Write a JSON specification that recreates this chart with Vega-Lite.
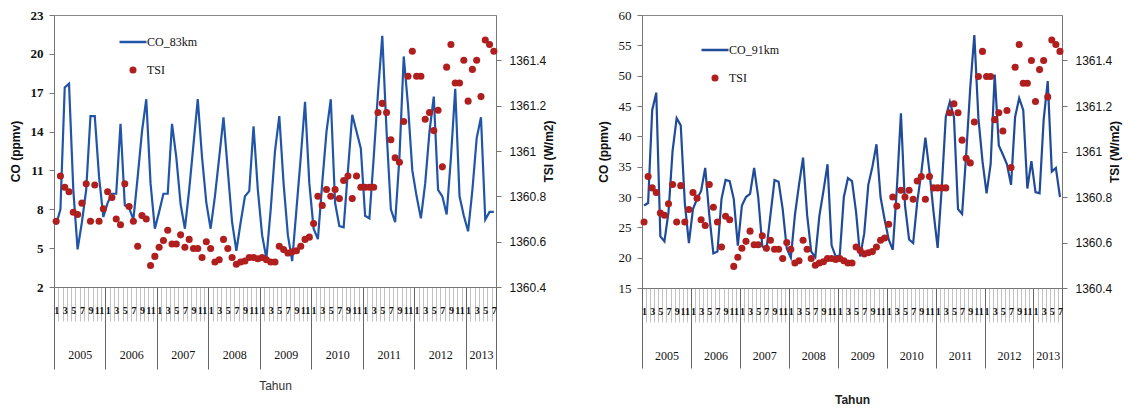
{
"$schema": "https://vega.github.io/schema/vega-lite/v6.json",
"background": "white",
"padding": {"left": 8, "top": 8, "right": 5, "bottom": 0},
"config": {"font": "Liberation Sans", "view": {"stroke": "#888", "strokeWidth": 1}, "axis": {"labelColor": "#111", "titleColor": "#111", "domainColor": "#777", "tickColor": "#777", "grid": false}},
"datasets": {
"d83": [
{"t":0,"co":6.8,"tsi":1360.69},{"t":1,"co":8.0,"tsi":1360.89},{"t":2,"co":17.4,"tsi":1360.84},{"t":3,"co":17.7,"tsi":1360.82},{"t":4,"co":9.5,"tsi":1360.73},{"t":5,"co":4.9,"tsi":1360.72},{"t":6,"co":7.0,"tsi":1360.77},{"t":7,"co":9.5,"tsi":1360.855},{"t":8,"co":15.2,"tsi":1360.69},{"t":9,"co":15.2,"tsi":1360.85},{"t":10,"co":10.5,"tsi":1360.69},{"t":11,"co":7.4,"tsi":1360.745},
{"t":12,"co":8.5,"tsi":1360.82},{"t":13,"co":9.2,"tsi":1360.795},{"t":14,"co":9.2,"tsi":1360.70},{"t":15,"co":14.6,"tsi":1360.675},{"t":16,"co":8.3,"tsi":1360.855},{"t":17,"co":8.1,"tsi":1360.755},{"t":18,"co":7.2,"tsi":1360.69},{"t":19,"co":10.5,"tsi":1360.58},{"t":20,"co":14.0,"tsi":1360.715},{"t":21,"co":16.5,"tsi":1360.70},{"t":22,"co":10.0,"tsi":1360.495},{"t":23,"co":6.5,"tsi":1360.535},
{"t":24,"co":7.8,"tsi":1360.575},{"t":25,"co":9.2,"tsi":1360.605},{"t":26,"co":9.2,"tsi":1360.65},{"t":27,"co":14.6,"tsi":1360.59},{"t":28,"co":12.0,"tsi":1360.59},{"t":29,"co":8.4,"tsi":1360.63},{"t":30,"co":6.5,"tsi":1360.575},{"t":31,"co":9.5,"tsi":1360.61},{"t":32,"co":13.0,"tsi":1360.57},{"t":33,"co":16.5,"tsi":1360.57},{"t":34,"co":12.0,"tsi":1360.53},{"t":35,"co":8.5,"tsi":1360.60},
{"t":36,"co":6.5,"tsi":1360.57},{"t":37,"co":9.0,"tsi":1360.51},{"t":38,"co":12.0,"tsi":1360.52},{"t":39,"co":15.1,"tsi":1360.61},{"t":40,"co":11.0,"tsi":1360.57},{"t":41,"co":7.0,"tsi":1360.53},{"t":42,"co":4.8,"tsi":1360.50},{"t":43,"co":7.0,"tsi":1360.51},{"t":44,"co":9.0,"tsi":1360.515},{"t":45,"co":9.4,"tsi":1360.53},{"t":46,"co":14.4,"tsi":1360.53},{"t":47,"co":9.5,"tsi":1360.525},
{"t":48,"co":6.0,"tsi":1360.53},{"t":49,"co":4.2,"tsi":1360.52},{"t":50,"co":8.0,"tsi":1360.51},{"t":51,"co":12.5,"tsi":1360.51},{"t":52,"co":15.2,"tsi":1360.58},{"t":53,"co":10.0,"tsi":1360.565},{"t":54,"co":6.0,"tsi":1360.55},{"t":55,"co":4.0,"tsi":1360.555},{"t":56,"co":8.0,"tsi":1360.56},{"t":57,"co":12.0,"tsi":1360.58},{"t":58,"co":16.3,"tsi":1360.61},{"t":59,"co":10.0,"tsi":1360.62},
{"t":60,"co":6.5,"tsi":1360.68},{"t":61,"co":5.7,"tsi":1360.80},{"t":62,"co":10.0,"tsi":1360.76},{"t":63,"co":14.0,"tsi":1360.83},{"t":64,"co":16.5,"tsi":1360.80},{"t":65,"co":8.5,"tsi":1360.83},{"t":66,"co":6.7,"tsi":1360.79},{"t":67,"co":6.6,"tsi":1360.87},{"t":68,"co":11.0,"tsi":1360.89},{"t":69,"co":15.3,"tsi":1360.79},{"t":70,"co":14.0,"tsi":1360.89},{"t":71,"co":12.7,"tsi":1360.84},
{"t":72,"co":7.5,"tsi":1360.84},{"t":73,"co":7.3,"tsi":1360.84},{"t":74,"co":12.0,"tsi":1360.84},{"t":75,"co":17.0,"tsi":1361.17},{"t":76,"co":21.4,"tsi":1361.21},{"t":77,"co":14.0,"tsi":1361.17},{"t":78,"co":8.0,"tsi":1361.05},{"t":79,"co":7.0,"tsi":1360.97},{"t":80,"co":12.0,"tsi":1360.95},{"t":81,"co":19.8,"tsi":1361.13},{"t":82,"co":16.0,"tsi":1361.33},{"t":83,"co":11.0,"tsi":1361.44},
{"t":84,"co":9.0,"tsi":1361.33},{"t":85,"co":7.3,"tsi":1361.33},{"t":86,"co":10.0,"tsi":1361.14},{"t":87,"co":14.0,"tsi":1361.17},{"t":88,"co":16.7,"tsi":1361.09},{"t":89,"co":9.5,"tsi":1361.18},{"t":90,"co":9.0,"tsi":1360.93},{"t":91,"co":7.6,"tsi":1361.37},{"t":92,"co":12.0,"tsi":1361.47},{"t":93,"co":17.3,"tsi":1361.30},{"t":94,"co":9.0,"tsi":1361.30},{"t":95,"co":7.5,"tsi":1361.40},
{"t":96,"co":6.3,"tsi":1361.22},{"t":97,"co":9.5,"tsi":1361.36},{"t":98,"co":13.5,"tsi":1361.40},{"t":99,"co":15.1,"tsi":1361.24},{"t":100,"co":7.2,"tsi":1361.49},{"t":101,"co":7.8,"tsi":1361.47},{"t":102,"co":7.8,"tsi":1361.44}
],
"d91": [
{"t":0,"co":28.6,"tsi":1360.69},{"t":1,"co":29.0,"tsi":1360.89},{"t":2,"co":44.3,"tsi":1360.84},{"t":3,"co":47.2,"tsi":1360.82},{"t":4,"co":23.5,"tsi":1360.73},{"t":5,"co":22.7,"tsi":1360.72},{"t":6,"co":27.5,"tsi":1360.77},{"t":7,"co":37.6,"tsi":1360.855},{"t":8,"co":43.0,"tsi":1360.69},{"t":9,"co":41.8,"tsi":1360.85},{"t":10,"co":29.0,"tsi":1360.69},{"t":11,"co":22.4,"tsi":1360.745},
{"t":12,"co":28.0,"tsi":1360.82},{"t":13,"co":29.7,"tsi":1360.795},{"t":14,"co":31.0,"tsi":1360.70},{"t":15,"co":34.8,"tsi":1360.675},{"t":16,"co":27.0,"tsi":1360.855},{"t":17,"co":20.7,"tsi":1360.755},{"t":18,"co":21.0,"tsi":1360.69},{"t":19,"co":29.7,"tsi":1360.58},{"t":20,"co":32.8,"tsi":1360.715},{"t":21,"co":32.6,"tsi":1360.70},{"t":22,"co":29.7,"tsi":1360.495},{"t":23,"co":22.0,"tsi":1360.535},
{"t":24,"co":28.6,"tsi":1360.575},{"t":25,"co":30.0,"tsi":1360.605},{"t":26,"co":30.5,"tsi":1360.65},{"t":27,"co":34.8,"tsi":1360.59},{"t":28,"co":30.0,"tsi":1360.59},{"t":29,"co":21.9,"tsi":1360.63},{"t":30,"co":21.3,"tsi":1360.575},{"t":31,"co":27.0,"tsi":1360.61},{"t":32,"co":32.8,"tsi":1360.57},{"t":33,"co":32.5,"tsi":1360.57},{"t":34,"co":28.0,"tsi":1360.53},{"t":35,"co":21.5,"tsi":1360.60},
{"t":36,"co":20.0,"tsi":1360.57},{"t":37,"co":27.0,"tsi":1360.51},{"t":38,"co":32.0,"tsi":1360.52},{"t":39,"co":36.5,"tsi":1360.61},{"t":40,"co":27.0,"tsi":1360.57},{"t":41,"co":21.0,"tsi":1360.53},{"t":42,"co":20.1,"tsi":1360.50},{"t":43,"co":26.9,"tsi":1360.51},{"t":44,"co":31.0,"tsi":1360.515},{"t":45,"co":35.4,"tsi":1360.53},{"t":46,"co":22.0,"tsi":1360.53},{"t":47,"co":20.2,"tsi":1360.525},
{"t":48,"co":20.4,"tsi":1360.53},{"t":49,"co":30.0,"tsi":1360.52},{"t":50,"co":33.1,"tsi":1360.51},{"t":51,"co":32.6,"tsi":1360.51},{"t":52,"co":27.5,"tsi":1360.58},{"t":53,"co":20.2,"tsi":1360.565},{"t":54,"co":24.0,"tsi":1360.55},{"t":55,"co":32.0,"tsi":1360.555},{"t":56,"co":35.0,"tsi":1360.56},{"t":57,"co":38.7,"tsi":1360.58},{"t":58,"co":30.0,"tsi":1360.61},{"t":59,"co":26.3,"tsi":1360.62},
{"t":60,"co":23.0,"tsi":1360.68},{"t":61,"co":21.3,"tsi":1360.80},{"t":62,"co":31.4,"tsi":1360.76},{"t":63,"co":43.8,"tsi":1360.83},{"t":64,"co":28.6,"tsi":1360.80},{"t":65,"co":23.0,"tsi":1360.83},{"t":66,"co":22.4,"tsi":1360.79},{"t":67,"co":29.2,"tsi":1360.87},{"t":68,"co":34.0,"tsi":1360.89},{"t":69,"co":39.8,"tsi":1360.79},{"t":70,"co":34.2,"tsi":1360.89},{"t":71,"co":27.5,"tsi":1360.84},
{"t":72,"co":21.6,"tsi":1360.84},{"t":73,"co":31.4,"tsi":1360.84},{"t":74,"co":43.2,"tsi":1360.84},{"t":75,"co":45.7,"tsi":1361.17},{"t":76,"co":43.2,"tsi":1361.21},{"t":77,"co":28.0,"tsi":1361.17},{"t":78,"co":27.2,"tsi":1361.05},{"t":79,"co":37.0,"tsi":1360.97},{"t":80,"co":48.0,"tsi":1360.95},{"t":81,"co":56.7,"tsi":1361.13},{"t":82,"co":43.0,"tsi":1361.33},{"t":83,"co":35.9,"tsi":1361.44},
{"t":84,"co":30.6,"tsi":1361.33},{"t":85,"co":35.4,"tsi":1361.33},{"t":86,"co":50.2,"tsi":1361.14},{"t":87,"co":38.5,"tsi":1361.17},{"t":88,"co":37.0,"tsi":1361.09},{"t":89,"co":35.4,"tsi":1361.18},{"t":90,"co":32.0,"tsi":1360.93},{"t":91,"co":43.2,"tsi":1361.37},{"t":92,"co":46.3,"tsi":1361.47},{"t":93,"co":44.3,"tsi":1361.30},{"t":94,"co":31.4,"tsi":1361.30},{"t":95,"co":35.9,"tsi":1361.40},
{"t":96,"co":30.8,"tsi":1361.22},{"t":97,"co":30.6,"tsi":1361.36},{"t":98,"co":42.7,"tsi":1361.40},{"t":99,"co":49.1,"tsi":1361.24},{"t":100,"co":34.2,"tsi":1361.49},{"t":101,"co":34.8,"tsi":1361.47},{"t":102,"co":30.0,"tsi":1361.44}
]
},
"spacing": 40,
"resolve": {"scale": {"color": "independent"}, "legend": {"color": "independent"}},
"hconcat": [
{
"width": 442, "height": 272,
"data": {"name": "d83"},
"resolve": {"scale": {"y": "independent"}},
"layer": [
{"mark": {"type": "line", "strokeWidth": 2.2},
 "encoding": {
  "x": {"field": "t", "type": "quantitative", "scale": {"domain": [-0.5, 102.5], "nice": false, "zero": false},
   "axis": {"values": [-0.5,0,0.5,1.5,2,2.5,3.5,4,4.5,5.5,6,6.5,7.5,8,8.5,9.5,10,10.5,11.5,12,12.5,13.5,14,14.5,15.5,16,16.5,17.5,18,18.5,19.5,20,20.5,21.5,22,22.5,23.5,24,24.5,25.5,26,26.5,27.5,28,28.5,29.5,30,30.5,31.5,32,32.5,33.5,34,34.5,35.5,36,36.5,37.5,38,38.5,39.5,40,40.5,41.5,42,42.5,43.5,44,44.5,45.5,46,46.5,47.5,48,48.5,49.5,50,50.5,51.5,52,52.5,53.5,54,54.5,55.5,56,56.5,57.5,58,58.5,59.5,60,60.5,61.5,62,62.5,63.5,64,64.5,65.5,66,66.5,67.5,68,68.5,69.5,70,70.5,71.5,72,72.5,73.5,74,74.5,75.5,76,76.5,77.5,78,78.5,79.5,80,80.5,81.5,82,82.5,83.5,84,84.5,85.5,86,86.5,87.5,88,88.5,89.5,90,90.5,91.5,92,92.5,93.5,94,94.5,95.5,96,96.5,97.5,98,98.5,99,99.5,100,100.5,101.5,102,102.5],
    "tickCount": 1000,
    "labelExpr": "(datum.value == 99 || (datum.value % 12 == 5.5 && datum.value < 100)) ? toString(2005 + floor(datum.value / 12)) : (datum.value % 1 == 0 ? toString(datum.value % 12 + 1) : '')",
    "tickSize": {"condition": {"test": "(datum.value + 0.5) % 12 == 0 || datum.value == 102.5", "value": 82}, "value": 34},
    "tickOpacity": {"condition": {"test": "datum.value % 1 == 0", "value": 0}, "value": 1},
    "tickColor": {"condition": {"test": "(datum.value + 0.5) % 12 == 0 || datum.value == 102.5", "value": "#666666"}, "value": "#a8a8a8"},
    "tickWidth": {"condition": {"test": "(datum.value + 0.5) % 12 == 0 || datum.value == 102.5", "value": 1}, "value": 0.7},
    "labelPadding": {"condition": {"test": "datum.value == 99 || (datum.value % 12 == 5.5 && datum.value < 100)", "value": 28}, "value": -16},
    "labelFontSize": {"condition": {"test": "datum.value == 99 || (datum.value % 12 == 5.5 && datum.value < 100)", "value": 12}, "value": 10},
    "labelFontWeight": {"condition": {"test": "datum.value == 99 || (datum.value % 12 == 5.5 && datum.value < 100)", "value": "normal"}, "value": "bold"},
    "labelFont": "Liberation Sans Narrow", "labelOverlap": false, "labelFlush": false, "labelBound": false,
    "title": "Tahun", "titleFontSize": 12, "titleFontWeight": "normal", "titleColor": "#333", "titlePadding": 11}},
  "y": {"field": "co", "type": "quantitative", "scale": {"domain": [2, 23], "nice": false, "zero": false},
   "axis": {"values": [2,5,8,11,14,17,20,23], "title": "CO (ppmv)", "titleFontSize": 12, "titleFontWeight": "bold", "labelFontSize": 13, "labelFontWeight": "bold", "labelFont": "Liberation Sans Narrow", "tickSize": 5, "labelPadding": 6, "titlePadding": 8}},
  "color": {"datum": "CO_83km", "type": "nominal", "scale": {"domain": ["CO_83km", "TSI"], "range": ["#2155a8", "#b01e1e"]},
   "legend": {"orient": "none", "legendX": 73, "legendY": 21, "title": null, "padding": 0, "rowPadding": 16, "labelFontSize": 12, "labelFont": "Liberation Sans Narrow", "labelColor": "#111", "symbolType": "stroke", "symbolSize": 729, "symbolStrokeWidth": 2.5, "labelOffset": 8,
    "encode": {"symbols": {"update": {"shape": {"signal": "datum.value === 'TSI' ? 'circle' : 'stroke'"}, "size": {"signal": "datum.value === 'TSI' ? 50 : 729"}, "fill": {"signal": "datum.value === 'TSI' ? '#b01e1e' : 'transparent'"}, "stroke": {"signal": "datum.value === 'TSI' ? '#b01e1e' : '#2155a8'"}, "strokeWidth": {"signal": "datum.value === 'TSI' ? 0 : 2.5"}}}}}}
 }},
{"mark": {"type": "point", "filled": true, "size": 50, "opacity": 1},
 "encoding": {
  "x": {"field": "t", "type": "quantitative", "scale": {"domain": [-0.5, 102.5], "nice": false, "zero": false},
   "axis": {"values": [-0.5,0,0.5,1.5,2,2.5,3.5,4,4.5,5.5,6,6.5,7.5,8,8.5,9.5,10,10.5,11.5,12,12.5,13.5,14,14.5,15.5,16,16.5,17.5,18,18.5,19.5,20,20.5,21.5,22,22.5,23.5,24,24.5,25.5,26,26.5,27.5,28,28.5,29.5,30,30.5,31.5,32,32.5,33.5,34,34.5,35.5,36,36.5,37.5,38,38.5,39.5,40,40.5,41.5,42,42.5,43.5,44,44.5,45.5,46,46.5,47.5,48,48.5,49.5,50,50.5,51.5,52,52.5,53.5,54,54.5,55.5,56,56.5,57.5,58,58.5,59.5,60,60.5,61.5,62,62.5,63.5,64,64.5,65.5,66,66.5,67.5,68,68.5,69.5,70,70.5,71.5,72,72.5,73.5,74,74.5,75.5,76,76.5,77.5,78,78.5,79.5,80,80.5,81.5,82,82.5,83.5,84,84.5,85.5,86,86.5,87.5,88,88.5,89.5,90,90.5,91.5,92,92.5,93.5,94,94.5,95.5,96,96.5,97.5,98,98.5,99,99.5,100,100.5,101.5,102,102.5],
    "tickCount": 1000,
    "labelExpr": "(datum.value == 99 || (datum.value % 12 == 5.5 && datum.value < 100)) ? toString(2005 + floor(datum.value / 12)) : (datum.value % 1 == 0 ? toString(datum.value % 12 + 1) : '')",
    "tickSize": {"condition": {"test": "(datum.value + 0.5) % 12 == 0 || datum.value == 102.5", "value": 82}, "value": 34},
    "tickOpacity": {"condition": {"test": "datum.value % 1 == 0", "value": 0}, "value": 1},
    "tickColor": {"condition": {"test": "(datum.value + 0.5) % 12 == 0 || datum.value == 102.5", "value": "#666666"}, "value": "#a8a8a8"},
    "tickWidth": {"condition": {"test": "(datum.value + 0.5) % 12 == 0 || datum.value == 102.5", "value": 1}, "value": 0.7},
    "labelPadding": {"condition": {"test": "datum.value == 99 || (datum.value % 12 == 5.5 && datum.value < 100)", "value": 28}, "value": -16},
    "labelFontSize": {"condition": {"test": "datum.value == 99 || (datum.value % 12 == 5.5 && datum.value < 100)", "value": 12}, "value": 10},
    "labelFontWeight": {"condition": {"test": "datum.value == 99 || (datum.value % 12 == 5.5 && datum.value < 100)", "value": "normal"}, "value": "bold"},
    "labelFont": "Liberation Sans Narrow", "labelOverlap": false, "labelFlush": false, "labelBound": false,
    "title": "Tahun", "titleFontSize": 12, "titleFontWeight": "normal", "titleColor": "#333", "titlePadding": 11}},
  "y": {"field": "tsi", "type": "quantitative", "scale": {"domain": [1360.4, 1361.6], "nice": false, "zero": false},
   "axis": {"orient": "right", "values": [1360.4,1360.6,1360.8,1361.0,1361.2,1361.4], "format": ".1~f", "title": "TSI (W/m2)", "titleAngle": 270, "titleFontSize": 12, "titleFontWeight": "bold", "labelFontSize": 12, "tickSize": 5, "labelPadding": 8, "titlePadding": 10}},
  "color": {"datum": "TSI", "type": "nominal"}
 }}
]
},
{
"width": 420, "height": 273,
"data": {"name": "d91"},
"resolve": {"scale": {"y": "independent"}},
"layer": [
{"mark": {"type": "line", "strokeWidth": 2.2},
 "encoding": {
  "x": {"field": "t", "type": "quantitative", "scale": {"domain": [-0.5, 102.5], "nice": false, "zero": false},
   "axis": {"values": [-0.5,0,0.5,1.5,2,2.5,3.5,4,4.5,5.5,6,6.5,7.5,8,8.5,9.5,10,10.5,11.5,12,12.5,13.5,14,14.5,15.5,16,16.5,17.5,18,18.5,19.5,20,20.5,21.5,22,22.5,23.5,24,24.5,25.5,26,26.5,27.5,28,28.5,29.5,30,30.5,31.5,32,32.5,33.5,34,34.5,35.5,36,36.5,37.5,38,38.5,39.5,40,40.5,41.5,42,42.5,43.5,44,44.5,45.5,46,46.5,47.5,48,48.5,49.5,50,50.5,51.5,52,52.5,53.5,54,54.5,55.5,56,56.5,57.5,58,58.5,59.5,60,60.5,61.5,62,62.5,63.5,64,64.5,65.5,66,66.5,67.5,68,68.5,69.5,70,70.5,71.5,72,72.5,73.5,74,74.5,75.5,76,76.5,77.5,78,78.5,79.5,80,80.5,81.5,82,82.5,83.5,84,84.5,85.5,86,86.5,87.5,88,88.5,89.5,90,90.5,91.5,92,92.5,93.5,94,94.5,95.5,96,96.5,97.5,98,98.5,99,99.5,100,100.5,101.5,102,102.5],
    "tickCount": 1000,
    "labelExpr": "(datum.value == 99 || (datum.value % 12 == 5.5 && datum.value < 100)) ? toString(2005 + floor(datum.value / 12)) : (datum.value % 1 == 0 ? toString(datum.value % 12 + 1) : '')",
    "tickSize": {"condition": {"test": "(datum.value + 0.5) % 12 == 0 || datum.value == 102.5", "value": 80}, "value": 34},
    "tickOpacity": {"condition": {"test": "datum.value % 1 == 0", "value": 0}, "value": 1},
    "tickColor": {"condition": {"test": "(datum.value + 0.5) % 12 == 0 || datum.value == 102.5", "value": "#666666"}, "value": "#a8a8a8"},
    "tickWidth": {"condition": {"test": "(datum.value + 0.5) % 12 == 0 || datum.value == 102.5", "value": 1}, "value": 0.7},
    "labelPadding": {"condition": {"test": "datum.value == 99 || (datum.value % 12 == 5.5 && datum.value < 100)", "value": 28}, "value": -16},
    "labelFontSize": {"condition": {"test": "datum.value == 99 || (datum.value % 12 == 5.5 && datum.value < 100)", "value": 12}, "value": 10},
    "labelFontWeight": {"condition": {"test": "datum.value == 99 || (datum.value % 12 == 5.5 && datum.value < 100)", "value": "normal"}, "value": "bold"},
    "labelFont": "Liberation Sans Narrow", "labelOverlap": false, "labelFlush": false, "labelBound": false,
    "title": "Tahun", "titleFontSize": 12, "titleFontWeight": "bold", "titleColor": "#222", "titlePadding": 26}},
  "y": {"field": "co", "type": "quantitative", "scale": {"domain": [15, 60], "nice": false, "zero": false},
   "axis": {"values": [15,20,25,30,35,40,45,50,55,60], "title": "CO (ppmv)", "titleFontSize": 12, "titleFontWeight": "bold", "labelFontSize": 13, "labelFont": "Liberation Sans Narrow", "tickSize": 5, "labelPadding": 6, "titlePadding": 8}},
  "color": {"datum": "CO_91km", "type": "nominal", "scale": {"domain": ["CO_91km", "TSI"], "range": ["#1f4b99", "#b01e1e"]},
   "legend": {"orient": "none", "legendX": 67, "legendY": 29, "title": null, "padding": 0, "rowPadding": 16, "labelFontSize": 12, "labelFont": "Liberation Sans Narrow", "labelColor": "#111", "symbolType": "stroke", "symbolSize": 729, "symbolStrokeWidth": 2.5, "labelOffset": 8,
    "encode": {"symbols": {"update": {"shape": {"signal": "datum.value === 'TSI' ? 'circle' : 'stroke'"}, "size": {"signal": "datum.value === 'TSI' ? 50 : 729"}, "fill": {"signal": "datum.value === 'TSI' ? '#b01e1e' : 'transparent'"}, "stroke": {"signal": "datum.value === 'TSI' ? '#b01e1e' : '#1f4b99'"}, "strokeWidth": {"signal": "datum.value === 'TSI' ? 0 : 2.5"}}}}}}
 }},
{"mark": {"type": "point", "filled": true, "size": 50, "opacity": 1},
 "encoding": {
  "x": {"field": "t", "type": "quantitative", "scale": {"domain": [-0.5, 102.5], "nice": false, "zero": false},
   "axis": {"values": [-0.5,0,0.5,1.5,2,2.5,3.5,4,4.5,5.5,6,6.5,7.5,8,8.5,9.5,10,10.5,11.5,12,12.5,13.5,14,14.5,15.5,16,16.5,17.5,18,18.5,19.5,20,20.5,21.5,22,22.5,23.5,24,24.5,25.5,26,26.5,27.5,28,28.5,29.5,30,30.5,31.5,32,32.5,33.5,34,34.5,35.5,36,36.5,37.5,38,38.5,39.5,40,40.5,41.5,42,42.5,43.5,44,44.5,45.5,46,46.5,47.5,48,48.5,49.5,50,50.5,51.5,52,52.5,53.5,54,54.5,55.5,56,56.5,57.5,58,58.5,59.5,60,60.5,61.5,62,62.5,63.5,64,64.5,65.5,66,66.5,67.5,68,68.5,69.5,70,70.5,71.5,72,72.5,73.5,74,74.5,75.5,76,76.5,77.5,78,78.5,79.5,80,80.5,81.5,82,82.5,83.5,84,84.5,85.5,86,86.5,87.5,88,88.5,89.5,90,90.5,91.5,92,92.5,93.5,94,94.5,95.5,96,96.5,97.5,98,98.5,99,99.5,100,100.5,101.5,102,102.5],
    "tickCount": 1000,
    "labelExpr": "(datum.value == 99 || (datum.value % 12 == 5.5 && datum.value < 100)) ? toString(2005 + floor(datum.value / 12)) : (datum.value % 1 == 0 ? toString(datum.value % 12 + 1) : '')",
    "tickSize": {"condition": {"test": "(datum.value + 0.5) % 12 == 0 || datum.value == 102.5", "value": 80}, "value": 34},
    "tickOpacity": {"condition": {"test": "datum.value % 1 == 0", "value": 0}, "value": 1},
    "tickColor": {"condition": {"test": "(datum.value + 0.5) % 12 == 0 || datum.value == 102.5", "value": "#666666"}, "value": "#a8a8a8"},
    "tickWidth": {"condition": {"test": "(datum.value + 0.5) % 12 == 0 || datum.value == 102.5", "value": 1}, "value": 0.7},
    "labelPadding": {"condition": {"test": "datum.value == 99 || (datum.value % 12 == 5.5 && datum.value < 100)", "value": 28}, "value": -16},
    "labelFontSize": {"condition": {"test": "datum.value == 99 || (datum.value % 12 == 5.5 && datum.value < 100)", "value": 12}, "value": 10},
    "labelFontWeight": {"condition": {"test": "datum.value == 99 || (datum.value % 12 == 5.5 && datum.value < 100)", "value": "normal"}, "value": "bold"},
    "labelFont": "Liberation Sans Narrow", "labelOverlap": false, "labelFlush": false, "labelBound": false,
    "title": "Tahun", "titleFontSize": 12, "titleFontWeight": "bold", "titleColor": "#222", "titlePadding": 26}},
  "y": {"field": "tsi", "type": "quantitative", "scale": {"domain": [1360.4, 1361.6], "nice": false, "zero": false},
   "axis": {"orient": "right", "values": [1360.4,1360.6,1360.8,1361.0,1361.2,1361.4], "format": ".1~f", "title": "TSI (W/m2)", "titleAngle": 270, "titleFontSize": 12, "titleFontWeight": "bold", "labelFontSize": 12, "tickSize": 5, "labelPadding": 8, "titlePadding": 10}},
  "color": {"datum": "TSI", "type": "nominal"}
 }}
]
}
]
}
